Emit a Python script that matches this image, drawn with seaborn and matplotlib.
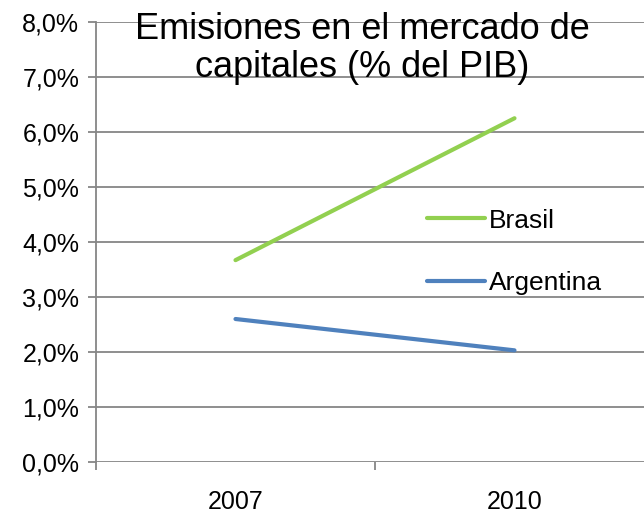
import pandas as pd
import matplotlib.pyplot as plt
import seaborn as sns
from matplotlib.ticker import FuncFormatter

# Data (% of GDP)
years = ["2007", "2010"]
brasil = [3.67, 6.25]
argentina = [2.60, 2.03]

df = pd.DataFrame({
    "year": years * 2,
    "value": brasil + argentina,
    "country": ["Brasil"] * 2 + ["Argentina"] * 2,
})

sns.set_style("white")
plt.rcParams["font.family"] = ["Liberation Sans", "DejaVu Sans"]
plt.rcParams["text.color"] = "black"
plt.rcParams["xtick.color"] = "black"
plt.rcParams["ytick.color"] = "black"

fig = plt.figure(figsize=(6.44, 5.15), dpi=100)
ax = fig.add_axes([96 / 644, 53 / 515, 558 / 644, 440 / 515])

palette = {"Brasil": "#92D050", "Argentina": "#4F81BD"}
sns.lineplot(data=df, x="year", y="value", hue="country", palette=palette,
             linewidth=3, ax=ax, sort=False)

ax.set_xlim(-0.5, 1.5)
ax.set_ylim(0, 8)
ax.set_yticks(range(0, 9))
ax.yaxis.set_major_formatter(FuncFormatter(lambda v, p: f"{v:.1f}%".replace(".", ",")))
ax.grid(axis="y", color="#868686", linewidth=1.3)
ax.set_axisbelow(True)
ax.set_xlabel("")
ax.set_ylabel("")

for s in ["top", "right"]:
    ax.spines[s].set_visible(False)
ax.spines["bottom"].set_visible(False)
ax.spines["left"].set_color("#868686")
ax.spines["left"].set_linewidth(1.3)

ax.tick_params(axis="y", left=True, length=6, width=1.3, color="#868686",
               labelcolor="black", labelsize=18, pad=6)
ax.tick_params(axis="x", bottom=False, labelcolor="black", labelsize=18, pad=17)
# small category separator ticks under the x axis
ax.set_xticks([-0.5, 0.5], minor=True)
ax.tick_params(axis="x", which="minor", bottom=True, length=6, width=1.3,
               color="#868686")

handles, labels = ax.get_legend_handles_labels()
ax.legend(handles, labels, loc="upper left", bbox_to_anchor=(0.55, 0.63),
          frameon=False, fontsize=19, handlelength=2.2, handletextpad=0.15,
          labelspacing=1.45, labelcolor="black")

fig.text(0.562, 1 - 12 / 515, "Emisiones en el mercado de\ncapitales (% del PIB)",
         ha="center", va="top", fontsize=26, linespacing=1.12, color="black")

fig.savefig("out.png", dpi=100)
